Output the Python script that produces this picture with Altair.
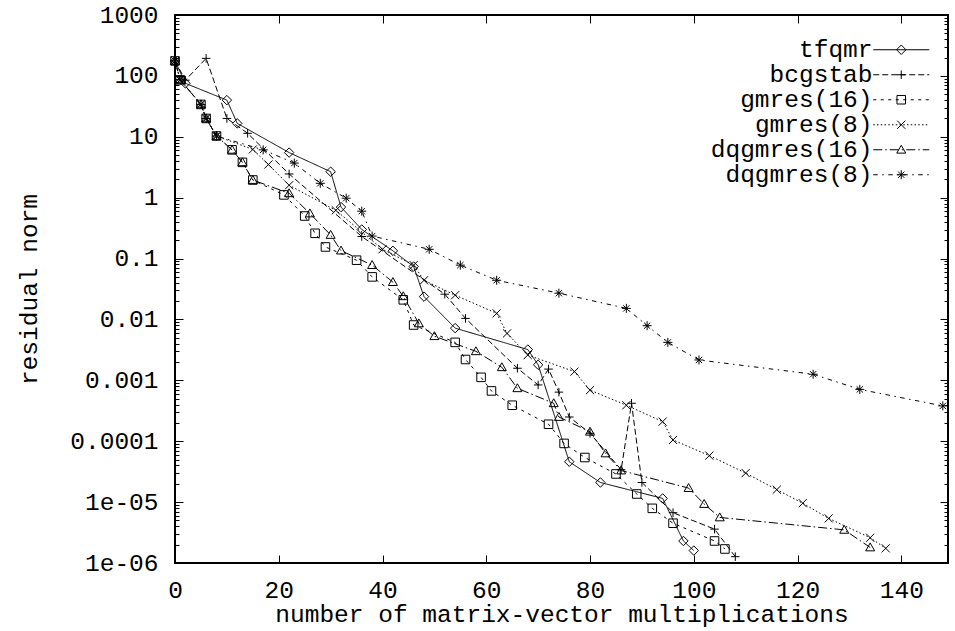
import altair as alt
import pandas as pd

# ---------------- data ----------------
series_names = ["tfqmr", "bcgstab", "gmres(16)", "gmres(8)", "dqgmres(16)", "dqgmres(8)"]

tfqmr_x = [0, 2, 10, 12, 22, 30, 32, 36, 42, 46, 48, 54, 68, 70, 76, 82, 94, 98, 100]
tfqmr_y = [176, 75.5, 40, 16.6, 5.5, 2.67, 0.70, 0.30, 0.134, 0.074, 0.0237, 0.0072,
           0.0032, 0.0018, 4.6e-5, 2.1e-5, 1.15e-5, 2.3e-6, 1.6e-6]

bcgstab_x = [0, 2, 6, 10, 14, 22, 36, 52, 56, 66, 70, 72, 74, 76, 80, 86, 88, 90, 96, 104, 108]
bcgstab_y = [176, 85, 194, 20, 11.4, 2.45, 0.23, 0.026, 0.0104, 0.00158, 8.4e-4, 1.53e-3,
             6.4e-4, 2.5e-4, 1.35e-4, 3.4e-5, 4.2e-4, 2.1e-5, 6.7e-6, 3.6e-6, 1.27e-6]

gmres16_x = [0, 1, 5, 6, 8, 11, 13, 15, 21, 25, 27, 29, 35, 38, 44, 46, 54, 56, 59, 61, 65,
             72, 75, 79, 85, 89, 92, 96, 104, 106]
gmres16_y = [176, 86, 34, 20, 10.3, 6.1, 3.8, 1.95, 1.11, 0.50, 0.26, 0.155, 0.094, 0.050,
             0.021, 0.0081, 0.0042, 0.0022, 0.00112, 6.7e-4, 3.9e-4, 1.9e-4, 9.2e-5, 5.4e-5,
             2.9e-5, 1.36e-5, 7.9e-6, 4.5e-6, 2.3e-6, 1.7e-6]

gmres8_x = [0, 1, 5, 6, 8, 15, 18, 22, 31, 40, 46, 48, 54, 62, 64, 68, 77, 80, 87, 94, 96,
            103, 110, 116, 121, 126, 134, 137]
gmres8_y = [176, 86, 34, 20, 10.3, 6.2, 3.5, 1.6, 0.62, 0.142, 0.078, 0.044, 0.025, 0.0126,
            0.0059, 0.0026, 1.39e-3, 6.9e-4, 3.9e-4, 2.1e-4, 1.05e-4, 5.8e-5, 3.0e-5, 1.6e-5,
            9.6e-6, 5.4e-6, 2.6e-6, 1.74e-6]

dqgmres16_x = [0, 1, 5, 6, 8, 11, 13, 15, 22, 26, 30, 32, 38, 42, 44, 47, 50, 58, 63, 66, 73,
               74, 80, 83, 86, 99, 102, 105, 129, 134]
dqgmres16_y = [176, 86, 34, 20, 10.3, 6.1, 3.8, 1.95, 1.18, 0.55, 0.244, 0.135, 0.078, 0.041,
               0.024, 0.0086, 0.0053, 0.0030, 0.00164, 7.4e-4, 4.2e-4, 2.5e-4, 1.43e-4, 6.3e-5,
               3.3e-5, 1.7e-5, 9.3e-6, 5.6e-6, 3.5e-6, 1.8e-6]

dqgmres8_x = [0, 1, 5, 6, 8, 17, 23, 28, 33, 36, 38, 49, 55, 62, 74, 87, 91, 95, 101, 123, 132, 148]
dqgmres8_y = [176, 86, 34, 20, 10.3, 6.1, 3.7, 1.72, 0.98, 0.60, 0.234, 0.142, 0.078, 0.044,
              0.027, 0.0152, 0.0079, 0.0042, 0.00216, 0.00126, 7.1e-4, 3.8e-4]

x_tick_values = [0, 20, 40, 60, 80, 100, 120, 140]
y_tick_values = [1e-6, 1e-5, 1e-4, 1e-3, 1e-2, 1e-1, 1, 10, 100, 1000]
y_tick_labels = ["1e-06", "1e-05", "0.0001", "0.001", "0.01", "0.1", "1", "10", "100", "1000"]

x_title = "number of matrix-vector multiplications"
y_title = "residual norm"

all_x = [tfqmr_x, bcgstab_x, gmres16_x, gmres8_x, dqgmres16_x, dqgmres8_x]
all_y = [tfqmr_y, bcgstab_y, gmres16_y, gmres8_y, dqgmres16_y, dqgmres8_y]

rows = []
for name, xs, ys in zip(series_names, all_x, all_y):
    for xv, yv in zip(xs, ys):
        rows.append({"method": name, "mv": xv, "res": yv})
df = pd.DataFrame(rows)

# ---------------- styles ----------------
FONT = "Liberation Mono"
FS = 24.5

dash_patterns = [[1, 0], [6, 3], [3, 4.5], [1.5, 2.25], [9, 3, 1.5, 3], [4.5, 4.5, 1.5, 4.5]]

# marker geometry in unit coordinates (polylines, closed flag, scale)
marker_geoms = [
    ([[(0, -1), (1, 0), (0, 1), (-1, 0)]], True, 1.05),                 # diamond
    ([[(-1, 0), (1, 0)], [(0, -1), (0, 1)]], False, 0.95),              # plus
    ([[(-1, -1), (1, -1), (1, 1), (-1, 1)]], True, 0.95),               # square
    ([[(-1, -1), (1, 1)], [(-1, 1), (1, -1)]], False, 0.9),             # cross
    ([[(0, -1), (1, 0.75), (-1, 0.75)]], True, 1.0),                    # triangle
    ([[(-1, 0), (1, 0)], [(0, -1), (0, 1)], [(-0.7, -0.7), (0.7, 0.7)],
      [(-0.7, 0.7), (0.7, -0.7)]], False, 1.0),                          # star
]


def marker_path(geom, factor):
    polys, closed, s = geom
    out = ""
    for poly in polys:
        pts = [(px * s * factor, py * s * factor) for px, py in poly]
        out += "M%.3f,%.3f" % pts[0]
        for p in pts[1:]:
            out += "L%.3f,%.3f" % p
        if closed:
            out += "Z"
    return out


def legend_path(geom, dash):
    unit = 5.0      # px per path unit at symbolSize 100
    half = 28.0     # half length of the sample line in px
    segs = []
    if dash[1] == 0:
        segs = [(-half, half)]
    else:
        pos, i = -half, 0
        while pos < half:
            end = min(pos + dash[i % len(dash)], half)
            if i % 2 == 0:
                segs.append((pos, end))
            pos, i = end, i + 1
    line = "".join("M%.3f,0L%.3f,0" % (a / unit, b / unit) for a, b in segs)
    return line + marker_path(geom, 0.9)


marker_paths = [marker_path(g, 1.0) for g in marker_geoms]
legend_paths = [legend_path(g, d) for g, d in zip(marker_geoms, dash_patterns)]

x_scale = alt.Scale(domain=[0, 149], nice=False, zero=False)
y_scale = alt.Scale(type="log", domain=[1e-6, 1000], nice=False)

y_minor = [m * v for v in y_tick_values[:-1] for m in range(2, 10)]

label_expr = "[" + ",".join("'%s'" % s for s in y_tick_labels) + "][round(log(datum.value)/LN10)+6]"

axis_bottom = alt.Axis(orient="bottom", values=x_tick_values, tickSize=8, offset=-8,
                       labelPadding=15, title=x_title, titlePadding=1)
axis_top = alt.Axis(orient="top", values=x_tick_values, tickSize=8, offset=-8,
                    labels=False, title=None)
axis_left = alt.Axis(orient="left", values=y_tick_values, tickSize=8, offset=-8,
                     labelPadding=17, labelExpr=label_expr, title=y_title, titlePadding=28)
axis_right = alt.Axis(orient="right", values=y_tick_values, tickSize=8, offset=-8,
                      labels=False, title=None)
axis_left_minor = alt.Axis(orient="left", values=y_minor, tickSize=4, offset=-4,
                           labels=False, title=None)
axis_right_minor = alt.Axis(orient="right", values=y_minor, tickSize=4, offset=-4,
                            labels=False, title=None)

lines = alt.Chart(df).mark_line(color="black", strokeWidth=1).encode(
    x=alt.X("mv:Q", scale=x_scale, axis=axis_bottom),
    y=alt.Y("res:Q", scale=y_scale, axis=axis_left),
    strokeDash=alt.StrokeDash("method:N",
                              scale=alt.Scale(domain=series_names, range=dash_patterns),
                              legend=None),
)

points = alt.Chart(df).mark_point(filled=False, color="black", strokeWidth=1, opacity=1,
                                  size=81).encode(
    x=alt.X("mv:Q", scale=x_scale, axis=axis_top),
    y=alt.Y("res:Q", scale=y_scale, axis=axis_right),
    shape=alt.Shape("method:N", scale=alt.Scale(domain=series_names, range=marker_paths),
                    legend=None),
)

legend_layer = alt.Chart(df).transform_filter("false").mark_point(
    filled=False, color="black", strokeWidth=1, opacity=1).encode(
    x=alt.X("mv:Q", scale=x_scale, axis=None),
    y=alt.Y("res:Q", scale=y_scale, axis=axis_left_minor),
    shape=alt.Shape("method:N", scale=alt.Scale(domain=series_names, range=legend_paths),
                    legend=alt.Legend(orient="none", legendX=714, legendY=22.5, title=None,
                                      labelFont=FONT, labelFontSize=FS, labelColor="black",
                                      labelAlign="right", labelOffset=alt.ExprRef(expr="-41"),
                                      labelLimit=400,
                                      symbolSize=100, symbolStrokeColor="black",
                                      symbolStrokeWidth=1, symbolOpacity=1,
                                      symbolFillColor="transparent",
                                      rowPadding=0, padding=0, symbolOffset=0)),
)

minor_right_layer = alt.Chart(df).transform_filter("false").mark_point(opacity=0).encode(
    x=alt.X("mv:Q", scale=x_scale, axis=None),
    y=alt.Y("res:Q", scale=y_scale, axis=axis_right_minor),
)

chart = alt.layer(lines, points, legend_layer, minor_right_layer).resolve_scale(
    shape="independent"
).resolve_axis(
    x="independent", y="independent"
).properties(
    width=773, height=548,
    autosize=alt.AutoSizeParams(type="none"),
    padding={"left": 175, "top": 15, "right": 7, "bottom": 68},
    background="white",
).configure_view(
    stroke="black", strokeWidth=2
).configure_axis(
    domain=False, grid=False, tickColor="black", tickWidth=1,
    labelFont=FONT, labelFontSize=FS, labelColor="black",
    labelFlush=False, labelOverlap=False,
    titleFont=FONT, titleFontSize=FS, titleFontWeight="normal", titleColor="black",
)

chart.save("out.html", embed_options={"renderer": "svg", "actions": False})
